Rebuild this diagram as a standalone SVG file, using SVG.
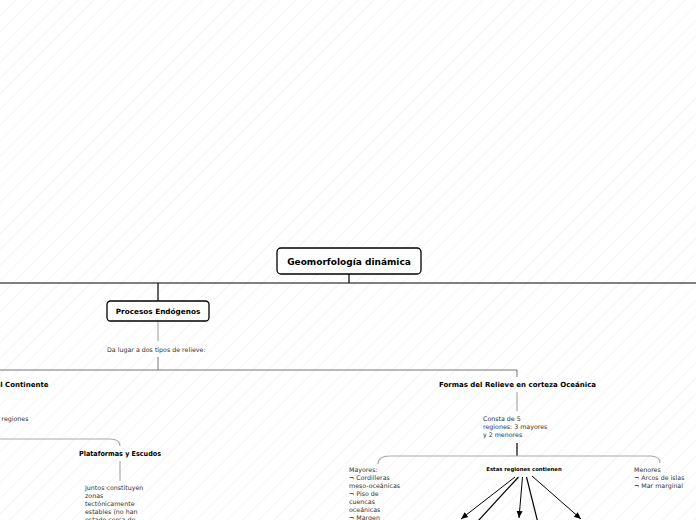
<svg xmlns="http://www.w3.org/2000/svg" width="696" height="520" viewBox="0 0 696 520">
<defs>
<pattern id="hatch" width="11" height="11" patternUnits="userSpaceOnUse" patternTransform="rotate(45)">
<line x1="0" y1="0" x2="0" y2="11" stroke="#ececec" stroke-width="1"/>
</pattern>
<marker id="arr" markerWidth="8" markerHeight="8" refX="7" refY="4" orient="auto" markerUnits="userSpaceOnUse">
<path d="M0,1 L7,4 L0,7 Z" fill="#000"/>
</marker>
<style>
.t{font-family:"DejaVu Sans",Verdana,sans-serif;fill:#333}
.b{font-weight:bold;fill:#000}
.box{fill:#fff;stroke:#000;stroke-width:1.3}
.k{stroke:#000;stroke-width:1.2;fill:none}
.g{stroke:#aaa;stroke-width:1.2;fill:none}
.d{stroke:#777;stroke-width:1;fill:none}
.a{stroke:#000;stroke-width:1;fill:none;marker-end:url(#arr)}
</style>
</defs>
<rect width="696" height="520" fill="#fff"/>
<rect width="696" height="520" fill="url(#hatch)"/>
<g id="connectors">
<path class="k" d="M349,274 V283 M0,283 H696 M158,283 V301"/>
<path class="g" d="M158,321 V341"/>
<path class="d" d="M158,357 V370 M0,370 H517 V377"/>
<path class="g" d="M0,439 H110 Q120,439 120,446"/>
<path class="g" d="M120,461 V481"/>
<path class="g" d="M517,392 V411"/>
<path class="k" d="M517,443 V456"/>
<path class="g" d="M378,464 Q378,456 390,456 H650 Q660,456 660,463"/>
<path class="a" d="M515,477 L461,519"/>
<path class="k" stroke-width="1" d="M518.5,477 L478,521"/>
<path class="a" d="M522.5,477 L519,518"/>
<path class="k" stroke-width="1" d="M526.5,477 L537.5,521"/>
<path class="a" stroke-width="1.4" d="M532,476 L581,519"/>
</g>
<g id="root">
<rect class="box" x="277" y="248" width="144" height="26" rx="4"/>
<text class="t b" x="349" y="265" font-size="9" text-anchor="middle">Geomorfología dinámica</text>
</g>
<g id="endogenos">
<rect class="box" x="107" y="301" width="102" height="20" rx="3.5"/>
<text class="t b" x="158" y="314" font-size="7.3" text-anchor="middle">Procesos Endógenos</text>
</g>
<g id="dalugar">
<text class="t" x="107" y="352" font-size="6.3">Da lugar a dos tipos de relieve:</text>
</g>
<g id="continente">
<text class="t b" x="48.5" y="387" font-size="7" text-anchor="end">Formas del Relieve en el Continente</text>
</g>
<g id="regiones-cont">
<text class="t" x="28.5" y="421" font-size="6.3" text-anchor="end">Consta de regiones</text>
</g>
<g id="plataformas">
<text class="t b" x="120" y="456" font-size="7" text-anchor="middle" textLength="82" lengthAdjust="spacingAndGlyphs">Plataformas y Escudos</text>
</g>
<g id="juntos">
<text class="t" font-size="6.3"><tspan x="85" y="490">Juntos constituyen</tspan><tspan x="85" y="498">zonas</tspan><tspan x="85" y="506">tectónicamente</tspan><tspan x="85" y="514">estables (no han</tspan><tspan x="85" y="522">estado cerca de</tspan></text>
</g>
<g id="oceanica">
<text class="t b" x="517.5" y="387" font-size="7" text-anchor="middle">Formas del Relieve en corteza Oceánica</text>
</g>
<g id="consta">
<text class="t" font-size="6.3"><tspan x="483" y="421">Consta de 5</tspan><tspan x="483" y="429">regiones: 3 mayores</tspan><tspan x="483" y="437">y 2 menores</tspan></text>
</g>
<g id="mayores">
<text class="t" font-size="6.3"><tspan x="349" y="472">Mayores:</tspan><tspan x="349" y="480">¬ Cordilleras</tspan><tspan x="349" y="488">meso-oceánicas</tspan><tspan x="349" y="496">¬ Piso de</tspan><tspan x="349" y="504">cuencas</tspan><tspan x="349" y="512">oceánicas</tspan><tspan x="349" y="520">¬ Margen</tspan></text>
</g>
<g id="contienen">
<text class="t b" x="524" y="471" font-size="5.3" text-anchor="middle">Estas regiones contienen</text>
</g>
<g id="menores">
<text class="t" font-size="6.3"><tspan x="634" y="472">Menores</tspan><tspan x="634" y="480">¬ Arcos de islas</tspan><tspan x="634" y="488">¬ Mar marginal</tspan></text>
</g>
</svg>
